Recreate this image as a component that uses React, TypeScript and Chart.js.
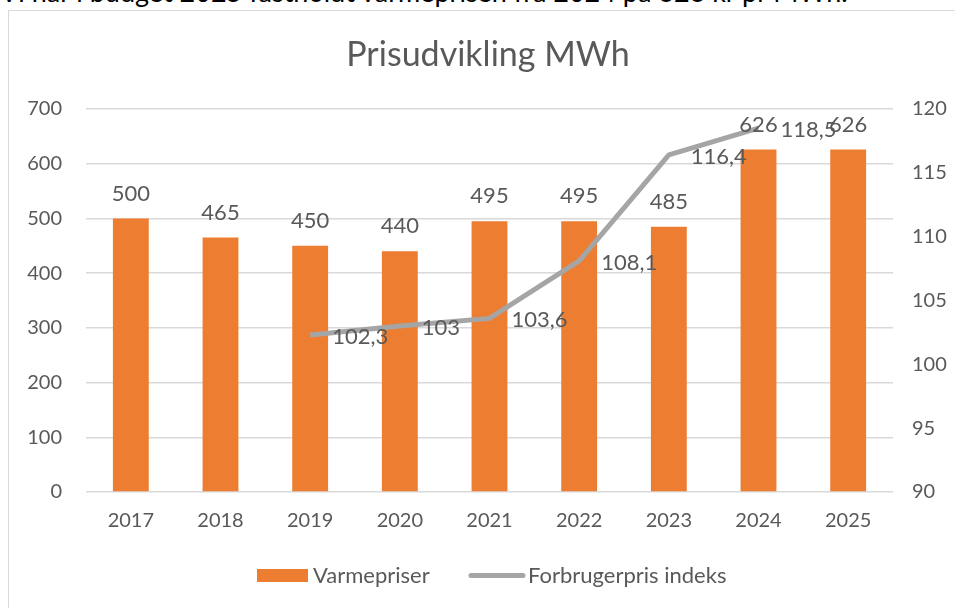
import React, { useEffect, useRef } from "react";
import { Chart, registerables } from "chart.js";
Chart.register(...registerables);

const years = ["2017", "2018", "2019", "2020", "2021", "2022", "2023", "2024", "2025"];
const varmepriser = [500, 465, 450, 440, 495, 495, 485, 626, 626];
const forbrugerpris: (number | null)[] = [null, null, 102.3, 103, 103.6, 108.1, 116.4, 118.5, null];
const leftTicks = [0, 100, 200, 300, 400, 500, 600, 700];
const rightTicks = [90, 95, 100, 105, 110, 115, 120];

const FONT = "Lato, 'Open Sans', sans-serif";
const TXT = "#595959";
const ORANGE = "#ED7D31";
const GRAY = "#A5A5A5";

const fmt = (v: number) => String(v).replace(".", ",");

const overlay = {
  id: "overlay",
  afterDatasetsDraw(chart: any) {
    const ctx = chart.ctx;
    ctx.save();
    ctx.fillStyle = TXT;
    ctx.font = `22px ${FONT}`;
    // bar labels
    const m0 = chart.getDatasetMeta(0);
    m0.data.forEach((el: any, i: number) => {
      ctx.textAlign = "center";
      ctx.textBaseline = "middle";
      ctx.fillText(fmt(varmepriser[i]), el.x, el.y - 25);
    });
    // line labels
    const m1 = chart.getDatasetMeta(1);
    m1.data.forEach((el: any, i: number) => {
      const v = forbrugerpris[i];
      if (v == null) return;
      ctx.textAlign = "left";
      ctx.textBaseline = "middle";
      ctx.fillText(fmt(v), el.x + 22, el.y + 2);
    });
    // title
    ctx.font = `34px ${FONT}`;
    ctx.textAlign = "center";
    ctx.textBaseline = "middle";
    ctx.fillText("Prisudvikling MWh", 488, 55);
    // legend
    ctx.font = `22px ${FONT}`;
    ctx.textAlign = "left";
    ctx.fillStyle = ORANGE;
    ctx.fillRect(257, 569, 51, 13);
    ctx.fillStyle = TXT;
    ctx.fillText(chart.data.datasets[0].label, 313, 576);
    ctx.strokeStyle = GRAY;
    ctx.lineWidth = 5;
    ctx.lineCap = "round";
    ctx.beginPath();
    ctx.moveTo(471, 575.5);
    ctx.lineTo(523, 575.5);
    ctx.stroke();
    ctx.fillText(chart.data.datasets[1].label, 528, 576);
    ctx.restore();
  },
};

export default function App() {
  const ref = useRef<HTMLCanvasElement>(null);
  useEffect(() => {
    if (!ref.current) return;
    const chart = new Chart(ref.current, {
      type: "bar",
      data: {
        labels: years,
        datasets: [
          {
            type: "bar",
            label: "Varmepriser",
            data: varmepriser,
            backgroundColor: ORANGE,
            yAxisID: "y",
            barPercentage: 0.4,
            categoryPercentage: 1,
            order: 2,
          },
          {
            type: "line",
            label: "Forbrugerpris indeks",
            data: forbrugerpris,
            borderColor: GRAY,
            backgroundColor: GRAY,
            borderWidth: 5,
            pointRadius: 0,
            tension: 0,
            yAxisID: "y1",
            spanGaps: false,
            order: 1,
          } as any,
        ],
      },
      options: {
        responsive: false,
        animation: false,
        layout: { padding: { top: 109, left: 0, right: 0, bottom: 0 } },
        plugins: { legend: { display: false }, title: { display: false }, tooltip: { enabled: false } },
        scales: {
          x: {
            grid: { display: false },
            border: { display: false },
            ticks: { color: TXT, font: { family: FONT, size: 20 }, padding: 9 },
            afterFit: (s: any) => { s.height = 116; },
          },
          y: {
            position: "left",
            min: 0,
            max: 700,
            afterBuildTicks: (s: any) => { s.ticks = leftTicks.map((v) => ({ value: v })); },
            grid: { color: "#D9D9D9", lineWidth: 1.5, drawTicks: false },
            border: { display: false },
            ticks: { color: TXT, font: { family: FONT, size: 20 }, padding: 24 },
            afterFit: (s: any) => { s.width = 86; },
          },
          y1: {
            position: "right",
            min: 90,
            max: 120,
            afterBuildTicks: (s: any) => { s.ticks = rightTicks.map((v) => ({ value: v })); },
            grid: { display: false, drawTicks: false },
            border: { display: false },
            ticks: { color: TXT, font: { family: FONT, size: 20 }, padding: 19 },
            afterFit: (s: any) => { s.width = 62; },
          },
        },
      },
      plugins: [overlay],
    });
    return () => chart.destroy();
  }, []);
  return (
    <div style={{ position: "fixed", left: 0, top: 0, width: 955, height: 608, overflow: "hidden", background: "#fff" }}>
      <div style={{ position: "absolute", left: 0, top: -24, whiteSpace: "nowrap", fontFamily: FONT, fontSize: 27, lineHeight: "32px", color: "#000" }}>
        Vi har i budget 2025 fastholdt varmeprisen fra 2024 på 626 kr pr MWh.
      </div>
      <div style={{ position: "absolute", left: 8, top: 10, width: 1000, height: 700, border: "1.5px solid #D9D9D9", boxSizing: "border-box" }} />
      <canvas ref={ref} width={955} height={608} style={{ position: "absolute", left: 0, top: 0, width: 955, height: 608 }} />
    </div>
  );
}
